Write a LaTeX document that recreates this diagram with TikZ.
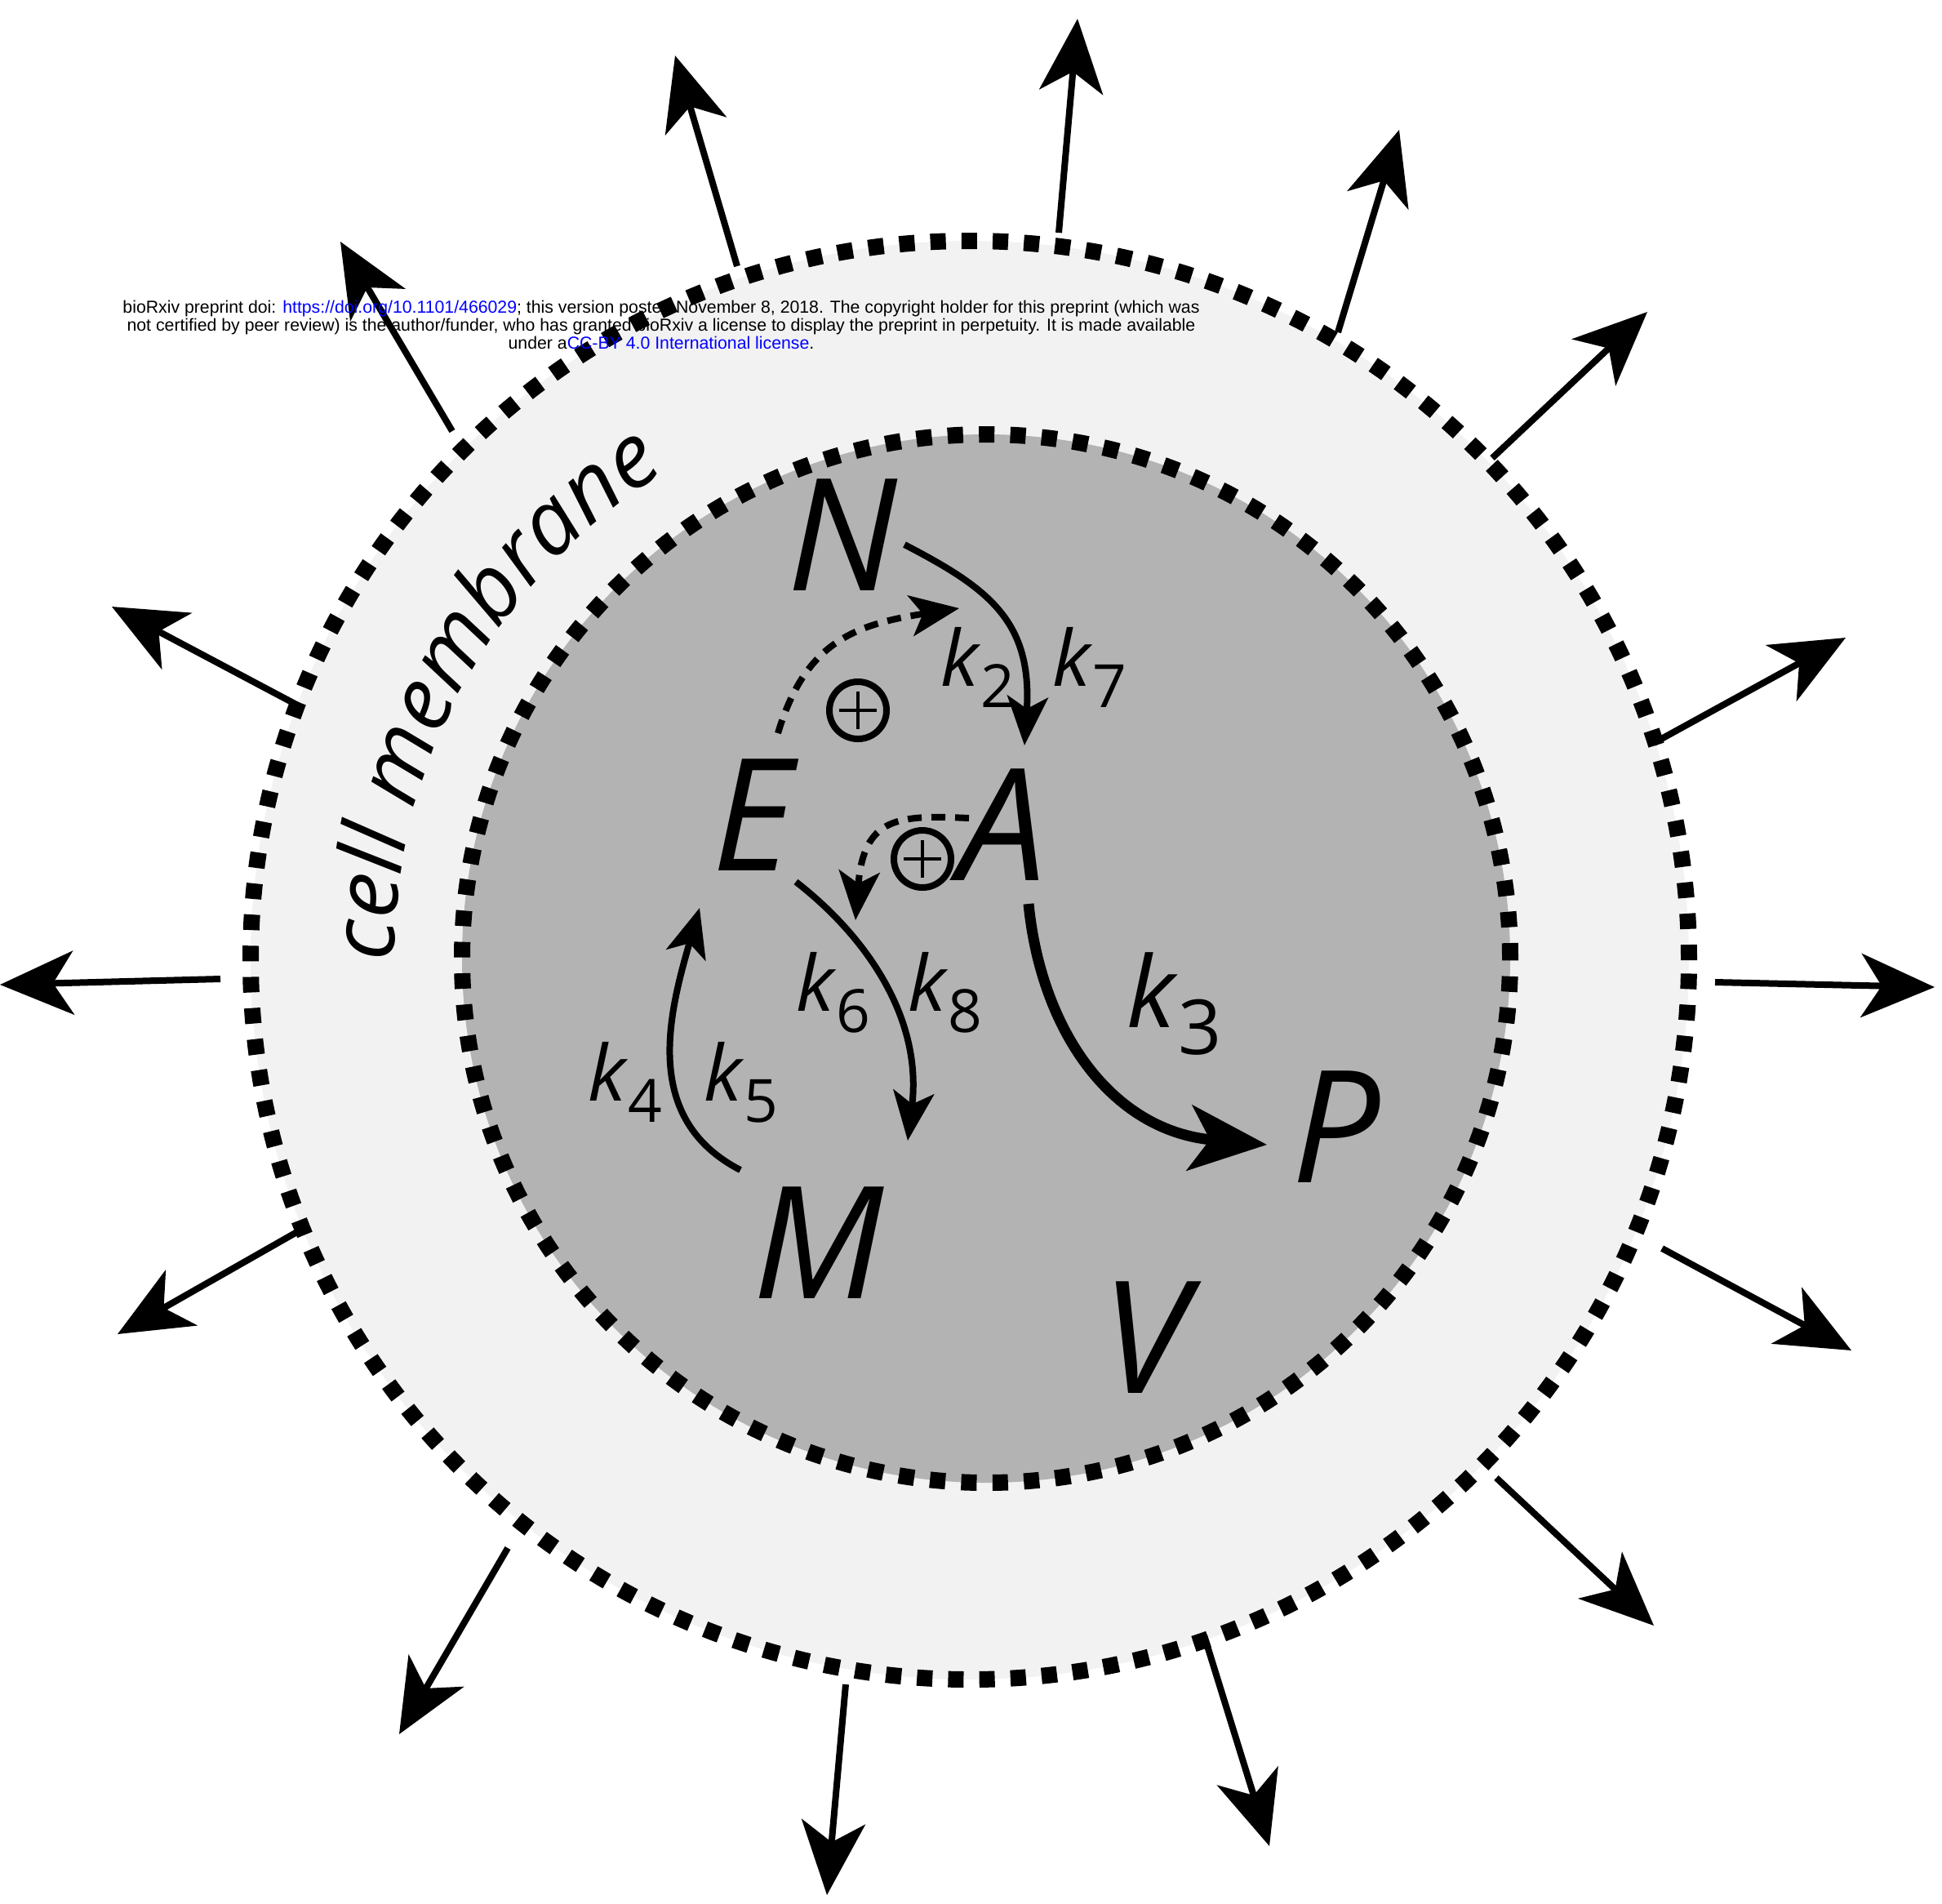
\documentclass[tikz,border=0pt]{standalone}
\usepackage{fontspec}
\setmainfont{Open Sans}
\newfontfamily\notefont{Liberation Sans}
\usetikzlibrary{arrows.meta,decorations.text,calc}
\definecolor{cmembrane}{RGB}{242,242,242}
\definecolor{ccyto}{RGB}{179,179,179}
\definecolor{clink}{RGB}{0,0,255}
\newcommand{\rate}[1]{{\itshape k}\kern0.03em\raisebox{-0.28em}{\scalebox{0.77}{#1}}}

\begin{document}
\begin{tikzpicture}[
  species/.style={font=\fontsize{54.5}{60}\selectfont\itshape, inner sep=0pt},
  ratelbl/.style={font=\fontsize{27}{30}\selectfont, inner sep=0pt, anchor=base west},
  dotring/.style={line width=0.2cm, dash pattern=on 0.19cm off 0.192cm},
  react/.style={line width=0.08cm, -{Stealth[length=0.6cm, width=0.5cm, inset=0.15cm]}},
  promote/.style={react, dash pattern=on 0.17cm off 0.12cm},
  bigreact/.style={line width=0.13cm, -{Stealth[length=0.95cm, width=0.8cm, inset=0.25cm]}},
  efflux/.style={line width=0.08cm, -{Stealth[length=0.9cm, width=0.78cm, inset=0.25cm]}},
  plusnode/.style={circle, draw, line width=0.08cm, minimum size=0.70cm, inner sep=0pt,
    path picture={\draw[line width=0.04cm]
      ([yshift=0.23cm]path picture bounding box.center) -- ([yshift=-0.23cm]path picture bounding box.center)
      ([xshift=-0.23cm]path picture bounding box.center) -- ([xshift=0.23cm]path picture bounding box.center);}}
]
\useasboundingbox (0,0) rectangle (23.79,-23.31);
\fill[white] (0,0) rectangle (23.79,-23.31);

% CELL AND CYTOPLASM
\coordinate (cellc) at (11.88,-11.76);
\coordinate (cytc) at (12.08,-11.74);
\fill[cmembrane] (cellc) circle (8.81);
\fill[ccyto] (cytc) circle (6.42);
\draw[dotring] (cellc) circle (8.81);
\draw[dotring, dash pattern=on 0.19cm off 0.194cm] (cytc) circle (6.42);

% EFFLUX ARROWS
\foreach \i/\sx/\sy/\tx/\ty in {1/12.97/-2.85/13.20/-0.23, 2/16.39/-4.07/17.14/-1.59,
  3/18.28/-5.61/20.18/-3.82, 4/20.26/-9.10/22.61/-7.81, 5/21.01/-12.03/23.70/-12.09,
  6/20.36/-15.29/22.68/-16.54, 7/18.33/-18.10/20.26/-19.91, 8/14.75/-20.03/15.55/-22.61,
  9/10.36/-20.63/10.13/-23.21, 10/6.22/-18.96/4.89/-21.24, 11/3.76/-15.02/1.44/-16.34,
  12/2.70/-11.99/0.00/-12.06, 13/3.67/-8.65/1.37/-7.43, 14/5.54/-5.28/4.17/-2.96,
  15/9.03/-3.26/8.27/-0.68}{
  \coordinate (out\i) at (\sx,\sy);
  \coordinate (tip\i) at (\tx,\ty);
  \draw[efflux] (out\i) -- (tip\i);
}

% MEMBRANE LABEL
\path[decorate, decoration={text along path, text align=center,
  text={|\fontsize{31}{34}\selectfont\itshape|cell membrane}}]
  ($(cellc)+(197:7.05)$) arc[start angle=197, end angle=105, radius=7.05];

% SPECIES
\node[species] (N) at (10.32,-6.55) {N};
\node[species] (E) at (9.22,-9.98) {E};
\node[species] (A) at (12.28,-10.10) {A};
\node[species] (M) at (10.03,-15.22) {M};
\node[species] (P) at (16.37,-13.80) {P};
\node[species] (V) at (14.02,-16.38) {V};

% RATE LABELS
\node[ratelbl] (k2) at (11.52,-8.40) {\rate{2}};
\node[ratelbl] (k7) at (12.89,-8.40) {\rate{7}};
\node[ratelbl] (k6) at (9.75,-12.38) {\rate{6}};
\node[ratelbl] (k8) at (11.12,-12.38) {\rate{8}};
\node[ratelbl] (k4) at (7.20,-13.48) {\rate{4}};
\node[ratelbl] (k5) at (8.62,-13.48) {\rate{5}};
\node[ratelbl, font=\fontsize{34.4}{38}\selectfont] (k3) at (13.80,-12.58) {\rate{3}};

% ACTIVATION SIGNS
\node[plusnode] (plusN) at (10.51,-8.70) {};
\node[plusnode] (plusE) at (11.30,-10.52) {};

% REACTIONS
\coordinate (NAs) at (11.08,-6.67);  \coordinate (NAe) at (12.55,-9.13);
\coordinate (ENs) at (9.53,-8.98);   \coordinate (ENe) at (11.75,-7.45);
\coordinate (AEs) at (11.87,-10.02); \coordinate (AEe) at (10.48,-11.27);
\coordinate (EMs) at (9.75,-10.80);  \coordinate (EMe) at (11.12,-13.97);
\coordinate (MEs) at (9.07,-14.33);  \coordinate (MEe) at (8.57,-11.12);
\coordinate (APs) at (12.60,-11.07); \coordinate (APe) at (15.52,-14.02);
\draw[react] (NAs) .. controls (12.10,-7.20) and (12.65,-7.60) .. (NAe);
\draw[promote] (ENs) .. controls (9.86,-7.88) and (10.45,-7.65) .. (ENe);
\draw[promote] (AEs) .. controls (11.00,-9.98) and (10.58,-10.00) .. (AEe);
\draw[react] (EMs) .. controls (10.65,-11.50) and (11.30,-12.50) .. (EMe);
\draw[react] (MEs) .. controls (7.85,-13.70) and (8.20,-12.40) .. (MEe);
\draw[bigreact] (APs) .. controls (12.75,-12.60) and (13.60,-13.85) .. (APe);

% PREPRINT NOTE
\node[font=\notefont\fontsize{6.05}{6.3}\selectfont, align=center, inner sep=0pt] (note) at (8.10,-3.98)
  {bioRxiv preprint doi: \textcolor{clink}{https://doi.org/10.1101/466029}; this version posted November 8, 2018. The copyright holder for this preprint (which was\\
   not certified by peer review) is the author/funder, who has granted bioRxiv a license to display the preprint in perpetuity. It is made available\\
   under a\textcolor{clink}{CC-BY 4.0 International license}.};
\end{tikzpicture}
\end{document}
